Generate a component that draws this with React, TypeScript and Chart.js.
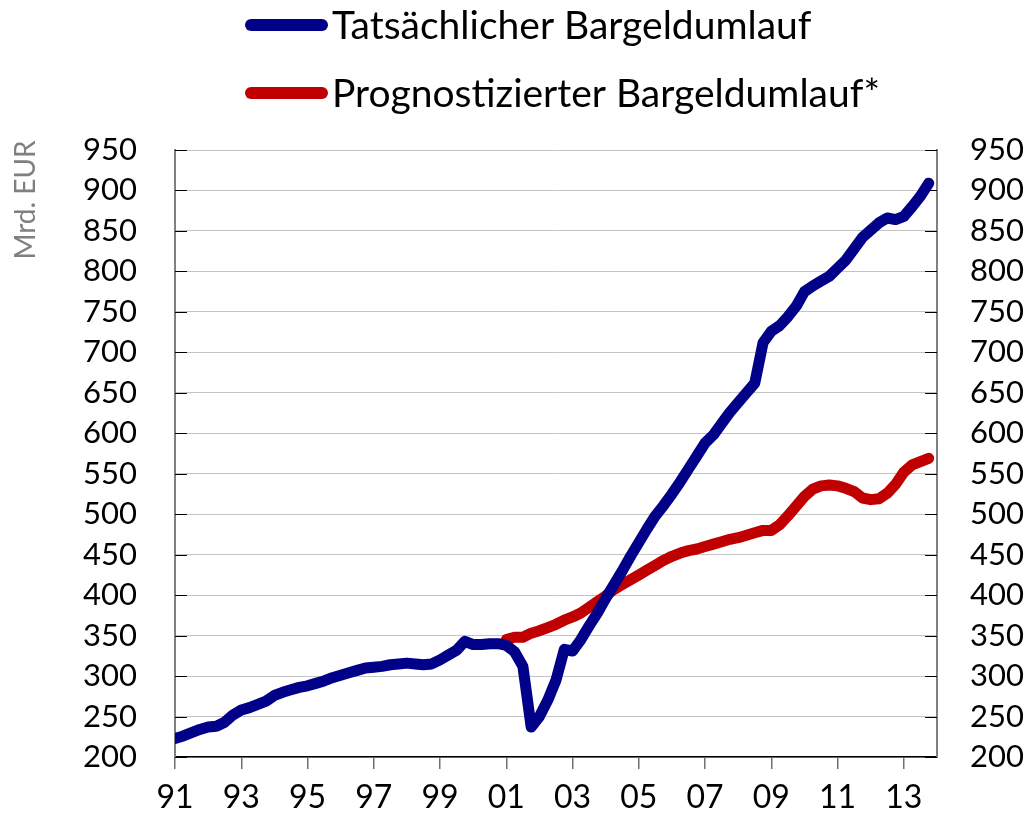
import React, { useEffect, useRef } from "react";
import { Chart, registerables } from "chart.js";

Chart.register(...registerables);

// ---- Data ----
const startYear = 1991; // first quarter of series (quarterly data)
const endYear = 2014;

const legendLabels = ["Tatsächlicher Bargeldumlauf", "Prognostizierter Bargeldumlauf*"];
const yTitle = "Mrd. EUR";

// Actual currency in circulation, quarterly from 1991 Q1 to 2013 Q4 (bn EUR)
const actual = [
  223, 226, 230, 234,
  237, 238, 243, 252,
  258, 261, 265, 269,
  276, 280, 283, 286,
  288, 291, 294, 298,
  301, 304, 307, 310,
  311, 312, 314, 315,
  316, 315, 314, 315,
  320, 326, 332, 343,
  339, 339, 340, 340,
  338, 330, 312, 237,
  250, 270, 295, 333,
  331, 345, 362, 378,
  396, 413, 430, 448,
  465, 482, 498, 511,
  525, 540, 556, 572,
  588, 598, 612, 626,
  638, 650, 662, 712,
  726, 733, 744, 757,
  775, 782, 788, 794,
  804, 814, 828, 842,
  851, 860, 866, 864,
  868, 880, 893, 909,
];

// Forecast currency in circulation, quarterly from 2001 Q1 to 2013 Q4 (bn EUR)
const forecastStartYear = 2001;
const forecast = [
  345, 348, 348, 353,
  356, 360, 364, 369,
  373, 378, 385, 392,
  399, 407, 413, 419,
  425, 431, 437, 443,
  448, 452, 455, 457,
  460, 463, 466, 469,
  471, 474, 477, 480,
  480, 487, 498, 510,
  522, 531, 535, 536,
  535, 532, 528, 520,
  518, 519, 526, 537,
  552, 561, 565, 569,
];

const xTickYears = [1991, 1993, 1995, 1997, 1999, 2001, 2003, 2005, 2007, 2009, 2011, 2013];
const xTickLabels = ["91", "93", "95", "97", "99", "01", "03", "05", "07", "09", "11", "13"];
const yMin = 200;
const yMax = 950;
const yStep = 50;

const blue = "#000088";
const red = "#C00000";
const FONT = "Lato, 'DejaVu Sans', sans-serif";

const toPoints = (start: number, vals: number[]) =>
  vals.map((v, i) => ({ x: start + i / 4, y: v }));

const overlayPlugin = {
  id: "overlay",
  beforeDatasetsDraw(chart: any) {
    const ctx = chart.ctx;
    const { left, right } = chart.chartArea;
    const ys = chart.scales.y;
    ctx.save();
    ctx.strokeStyle = "#000";
    ctx.lineWidth = 1;
    for (const t of ys.ticks) {
      const py = Math.round(ys.getPixelForValue(t.value)) + 0.5;
      ctx.beginPath();
      ctx.moveTo(left, py);
      ctx.lineTo(left + 12, py);
      ctx.moveTo(right, py);
      ctx.lineTo(right - 12, py);
      ctx.stroke();
    }
    ctx.restore();
  },
  afterDraw(chart: any) {
    const ctx = chart.ctx;
    ctx.save();
    const rows = [
      { label: legendLabels[0], color: blue, y: 25 },
      { label: legendLabels[1], color: red, y: 93 },
    ];
    ctx.font = `39px ${FONT}`;
    ctx.textBaseline = "middle";
    ctx.textAlign = "left";
    for (const r of rows) {
      ctx.strokeStyle = r.color;
      ctx.lineWidth = 12;
      ctx.lineCap = "round";
      ctx.beginPath();
      ctx.moveTo(251, r.y);
      ctx.lineTo(322, r.y);
      ctx.stroke();
      ctx.fillStyle = "#000";
      ctx.fillText(r.label, 332, r.y + 1);
    }
    ctx.translate(26, 200);
    ctx.rotate(-Math.PI / 2);
    ctx.fillStyle = "#808080";
    ctx.font = `28px ${FONT}`;
    ctx.textAlign = "center";
    ctx.fillText(yTitle, 0, 0);
    ctx.restore();
  },
};

export default function App() {
  const ref = useRef<HTMLCanvasElement | null>(null);

  useEffect(() => {
    if (!ref.current) return;
    const chart = new Chart(ref.current, {
      type: "line",
      data: {
        datasets: [
          {
            label: legendLabels[0],
            data: toPoints(startYear, actual),
            borderColor: blue,
            backgroundColor: blue,
            borderWidth: 11,
            borderCapStyle: "round",
            borderJoinStyle: "round",
            pointRadius: 0,
            tension: 0,
          },
          {
            label: legendLabels[1],
            data: toPoints(forecastStartYear, forecast),
            borderColor: red,
            backgroundColor: red,
            borderWidth: 11,
            borderCapStyle: "round",
            borderJoinStyle: "round",
            pointRadius: 0,
            tension: 0,
          },
        ],
      },
      options: {
        responsive: false,
        animation: false,
        events: [],
        layout: { padding: { top: 150, left: 0, right: 0, bottom: 0 } },
        plugins: {
          legend: { display: false },
          tooltip: { enabled: false },
          title: { display: false },
        },
        scales: {
          x: {
            type: "linear",
            min: startYear,
            max: endYear,
            afterBuildTicks: (scale: any) => {
              scale.ticks = xTickYears.map((v) => ({ value: v }));
            },
            afterFit: (scale: any) => {
              scale.height = 63;
            },
            grid: {
              drawOnChartArea: false,
              drawTicks: true,
              tickLength: 12,
              color: "#707070",
              lineWidth: 1.5,
            },
            border: { display: true, color: "#000", width: 1.5 },
            ticks: {
              autoSkip: false,
              maxRotation: 0,
              padding: 9,
              color: "#000",
              font: { family: FONT, size: 32 },
              callback: (v: any) => {
                const i = xTickYears.indexOf(Number(v));
                return i >= 0 ? xTickLabels[i] : "";
              },
            },
          },
          y: {
            position: "left",
            min: yMin,
            max: yMax,
            afterFit: (scale: any) => {
              scale.width = 175;
            },
            ticks: {
              stepSize: yStep,
              padding: 38,
              color: "#000",
              font: { family: FONT, size: 31 },
            },
            grid: {
              drawOnChartArea: true,
              drawTicks: false,
              color: "#c4c4c4",
              lineWidth: 1,
            },
            border: { display: true, color: "#808080", width: 2 },
          },
          y2: {
            position: "right",
            min: yMin,
            max: yMax,
            afterFit: (scale: any) => {
              scale.width = 93;
            },
            ticks: {
              stepSize: yStep,
              padding: 33,
              color: "#000",
              font: { family: FONT, size: 31 },
            },
            grid: { drawOnChartArea: false, drawTicks: false },
            border: { display: true, color: "#808080", width: 2 },
          },
        },
      },
      plugins: [overlayPlugin],
    } as any);
    return () => chart.destroy();
  }, []);

  return (
    <div style={{ position: "absolute", left: 0, top: 0, width: 1030, height: 820, background: "#fff" }}>
      <canvas ref={ref} width={1030} height={820} />
    </div>
  );
}
